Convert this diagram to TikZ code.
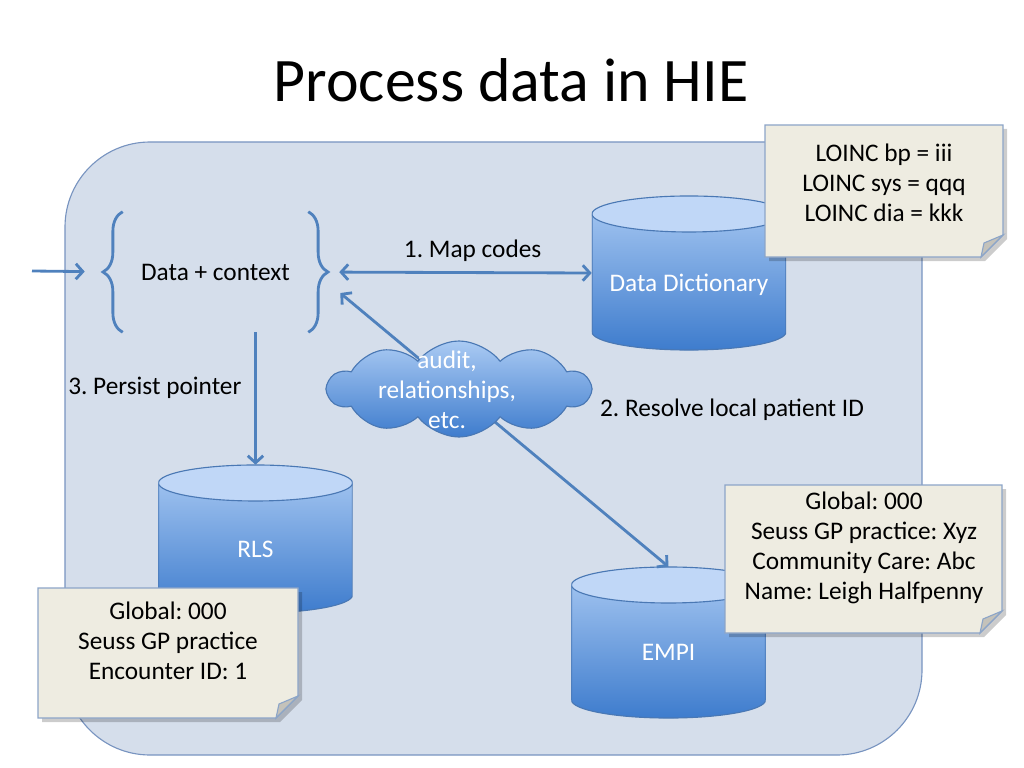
\documentclass[tikz,border=0pt]{standalone}
\usepackage{fontspec}
\setmainfont{Carlito}
\frenchspacing
\usetikzlibrary{arrows.meta,shapes.symbols,decorations.pathreplacing}

\definecolor{linkblue}{RGB}{79,129,189}
\definecolor{boxfill}{RGB}{213,222,235}
\definecolor{boxline}{RGB}{120,148,192}
\definecolor{cyltop}{RGB}{170,202,243}
\definecolor{cylbot}{RGB}{62,124,205}
\definecolor{cylface}{RGB}{192,215,247}
\definecolor{cylline}{RGB}{74,120,180}
\definecolor{notefill}{RGB}{238,236,225}
\definecolor{noteline}{RGB}{140,165,200}
\definecolor{foldfill}{RGB}{196,194,186}

\newcommand{\bodyfont}{\fontsize{18}{21.5}\selectfont}

% sticky note with folded corner: left, top, right, bottom (px)
\newcommand{\notepaper}[4]{%
  \fill[black, opacity=0.2] ({#1+4},{#2+4}) -- ({#3+4},{#2+4}) -- ({#3+4},{#4-18}) -- ({#3-18},{#4+4}) -- ({#1+4},{#4+4}) -- cycle;
  \filldraw[notepage] (#1,#2) -- (#3,#2) -- (#3,{#4-22}) -- ({#3-22},#4) -- (#1,#4) -- cycle;
  \filldraw[notefold] ({#3-22},#4) .. controls ({#3-21},{#4-7}) .. ({#3-19},{#4-14}) -- (#3,{#4-22}) -- cycle;
}

\tikzset{
  flow/.style={draw=linkblue, line width=2pt, -{Straight Barb[length=5pt,width=11pt]}},
  twoway/.style={flow, {Straight Barb[length=5pt,width=11pt]}-{Straight Barb[length=5pt,width=11pt]}},
  brace/.style={draw=linkblue, line width=2pt, decorate, decoration={brace, amplitude=14pt}},
  txt/.style={font=\bodyfont, align=center, inner sep=0pt},
  notepage/.style={fill=notefill, draw=noteline, line width=0.8pt},
  notefold/.style={fill=foldfill, draw=noteline, line width=0.8pt},
  dbdrum/.style={minimum width=4.85cm, minimum height=#1, inner sep=0pt,
    text=white, font=\bodyfont, text height=31pt, text depth=5pt,
    path picture={
      \shade[top color=cyltop, bottom color=cylbot, draw=cylline, line width=0.8pt]
        ([yshift=-0.45cm]path picture bounding box.north west)
        -- ([yshift=0.45cm]path picture bounding box.south west)
        arc[start angle=180, end angle=360, x radius=2.425cm, y radius=0.45cm]
        -- ([yshift=-0.45cm]path picture bounding box.north east) -- cycle;
      \filldraw[fill=cylface, draw=cylline, line width=0.8pt]
        ([yshift=-0.45cm]path picture bounding box.north) ellipse [x radius=2.425cm, y radius=0.45cm];
    }},
}

\begin{document}
\begin{tikzpicture}[x=0.025cm, y=-0.025cm]
\useasboundingbox (0,0) rectangle (1024,768);

%title
\node[font=\fontsize{44}{53}\selectfont] (title) at (511,80) {Process data in HIE};

%HIE area
\draw[fill=boxfill, draw=boxline, line width=0.8pt, rounded corners=2.125cm] (65,142) rectangle (922,755);

%data + context
\node[txt, minimum width=4.625cm, minimum height=3cm] (data) at (215.5,272) {Data + context};
\draw[brace] (data.south west) -- (data.north west);
\draw[brace] (data.north east) -- (data.south east);

%stores
\node[dbdrum=3.85cm] (dd) at (689,273) {Data Dictionary};
\node[dbdrum=3.7cm] (rls) at (255.5,539) {RLS};
\node[dbdrum=3.775cm] (empi) at (668.5,642.5) {EMPI};

%connectors
\coordinate (src) at (32,271);
\draw[flow, shorten >=27pt] (src) -- (data.west);
\draw[twoway, shorten <=22pt] (data.east) -- (dd.west)
  node[txt, pos=0.58, above=7pt] (mapl) {1. Map codes};
\draw[flow] (data.south -| rls.north) -- (rls.north)
  node[txt, pos=0.42, left=9pt] (ptrl) {3. Persist pointer};
\draw[twoway, shorten <=29.6pt] ([yshift=4pt]data.east) -- (empi.north);
\node[txt] (resl) at (732,410) {2. Resolve local patient ID};

%cloud
\node[cloud, cloud puffs=10, cloud puff arc=105, cloud ignores aspect, minimum width=6.55cm, minimum height=2.4cm,
  inner sep=0pt, top color=cyltop, bottom color=cylbot, draw=cylline, line width=0.8pt] (audit) at (459,389) {};
\node[txt, text=white] (audtxt) at (447,390) {audit,\\relationships,\\etc.};

%notes
\foreach \l/\t/\r/\b in {765/125/1003/257, 725/485/1002/633, 38/588/298/718}
  \notepaper{\l}{\t}{\r}{\b};
\node[txt] (loinc) at (884,183) {LOINC bp = iii\\LOINC sys = qqq\\LOINC dia = kkk};
\node[txt] (pid) at (864,548) {Global: 000\\Seuss GP practice: Xyz\\Community Care: Abc\\Name: Leigh Halfpenny};
\node[txt] (ptr) at (168,641) {Global: 000\\Seuss GP practice\\Encounter ID: 1};

\end{tikzpicture}
\end{document}
